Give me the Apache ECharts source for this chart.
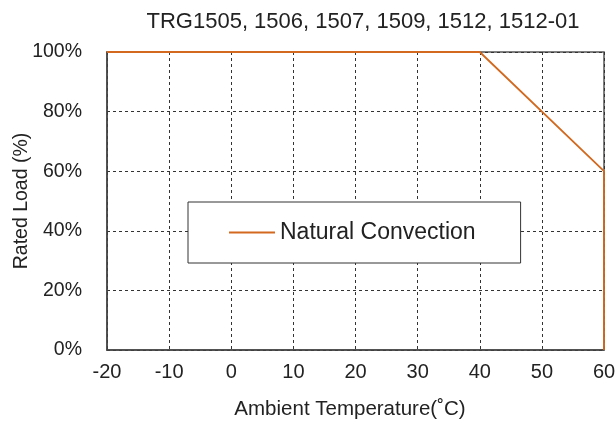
<!DOCTYPE html>
<html><head><meta charset="utf-8">
<script src="https://cdn.jsdelivr.net/npm/echarts@6/dist/echarts.min.js"></script>
<style>html,body{margin:0;padding:0;background:#fff}#c{width:615px;height:422px}</style>
</head><body><div id="c"></div>
<script>
const titleText = 'TRG1505, 1506, 1507, 1509, 1512, 1512-01';
const seriesName = 'Natural Convection';
const tempX = [-20, 40, 60, 60];
const loadY = [100, 100, 60, 0];
const xName = 'Ambient Temperature(˚C)';
const yName = 'Rated Load (%)';

const font = 'Arial, "Liberation Sans", sans-serif';
const orange = '#D2691E';
const chart = echarts.init(document.getElementById('c'));
chart.setOption({
  animation: false,
  title: { text: titleText, left: 358, textAlign: 'center', top: 6,
    textStyle: { fontFamily: font, fontSize: 22, fontWeight: 'normal', color: '#222' } },
  grid: { left: 107, right: 11, top: 52, bottom: 72, show: true, borderColor: '#555', borderWidth: 1.5,
    outerBoundsMode: 'none', containLabel: false },
  legend: {
    left: 188, top: 202, orient: 'horizontal',
    padding: [19, 45, 19, 41],
    borderColor: '#333', borderWidth: 1, backgroundColor: '#fff',
    itemWidth: 46, itemHeight: 2, itemGap: 5,
    icon: 'rect',
    itemStyle: { color: orange },
    textStyle: { fontFamily: font, fontSize: 23, color: '#222' },
    data: [seriesName]
  },
  xAxis: {
    type: 'value', min: -20, max: 60, interval: 10,
    name: xName, nameLocation: 'middle', nameGap: 49, nameMoveOverlap: false,
    nameTextStyle: { fontFamily: font, fontSize: 20.5, color: '#222', padding: [0, 11, 0, 0] },
    axisLine: { show: true, onZero: false, lineStyle: { color: '#444', width: 1.5 } },
    axisTick: { show: false },
    axisLabel: { fontFamily: font, fontSize: 20, color: '#222', margin: 12 },
    splitLine: { show: true, lineStyle: { color: '#333', type: [3, 3], width: 1 } }
  },
  yAxis: {
    type: 'value', min: 0, max: 100, interval: 20,
    name: yName, nameLocation: 'middle', nameGap: 75, nameMoveOverlap: false,
    nameTextStyle: { fontFamily: font, fontSize: 19.5, color: '#222' },
    axisLine: { show: true, onZero: false, lineStyle: { color: '#444', width: 1.5 } },
    axisTick: { show: false },
    axisLabel: { fontFamily: font, fontSize: 19.5, color: '#222', margin: 25, formatter: '{value}%' },
    splitLine: { show: true, lineStyle: { color: '#333', type: [3, 3], width: 1 } }
  },
  series: [{
    name: seriesName, type: 'line', symbol: 'none',
    lineStyle: { color: orange, width: 1.8 },
    itemStyle: { color: orange },
    data: tempX.map((x, i) => [x, loadY[i]]),
    z: 5
  }]
});
</script></body></html>
